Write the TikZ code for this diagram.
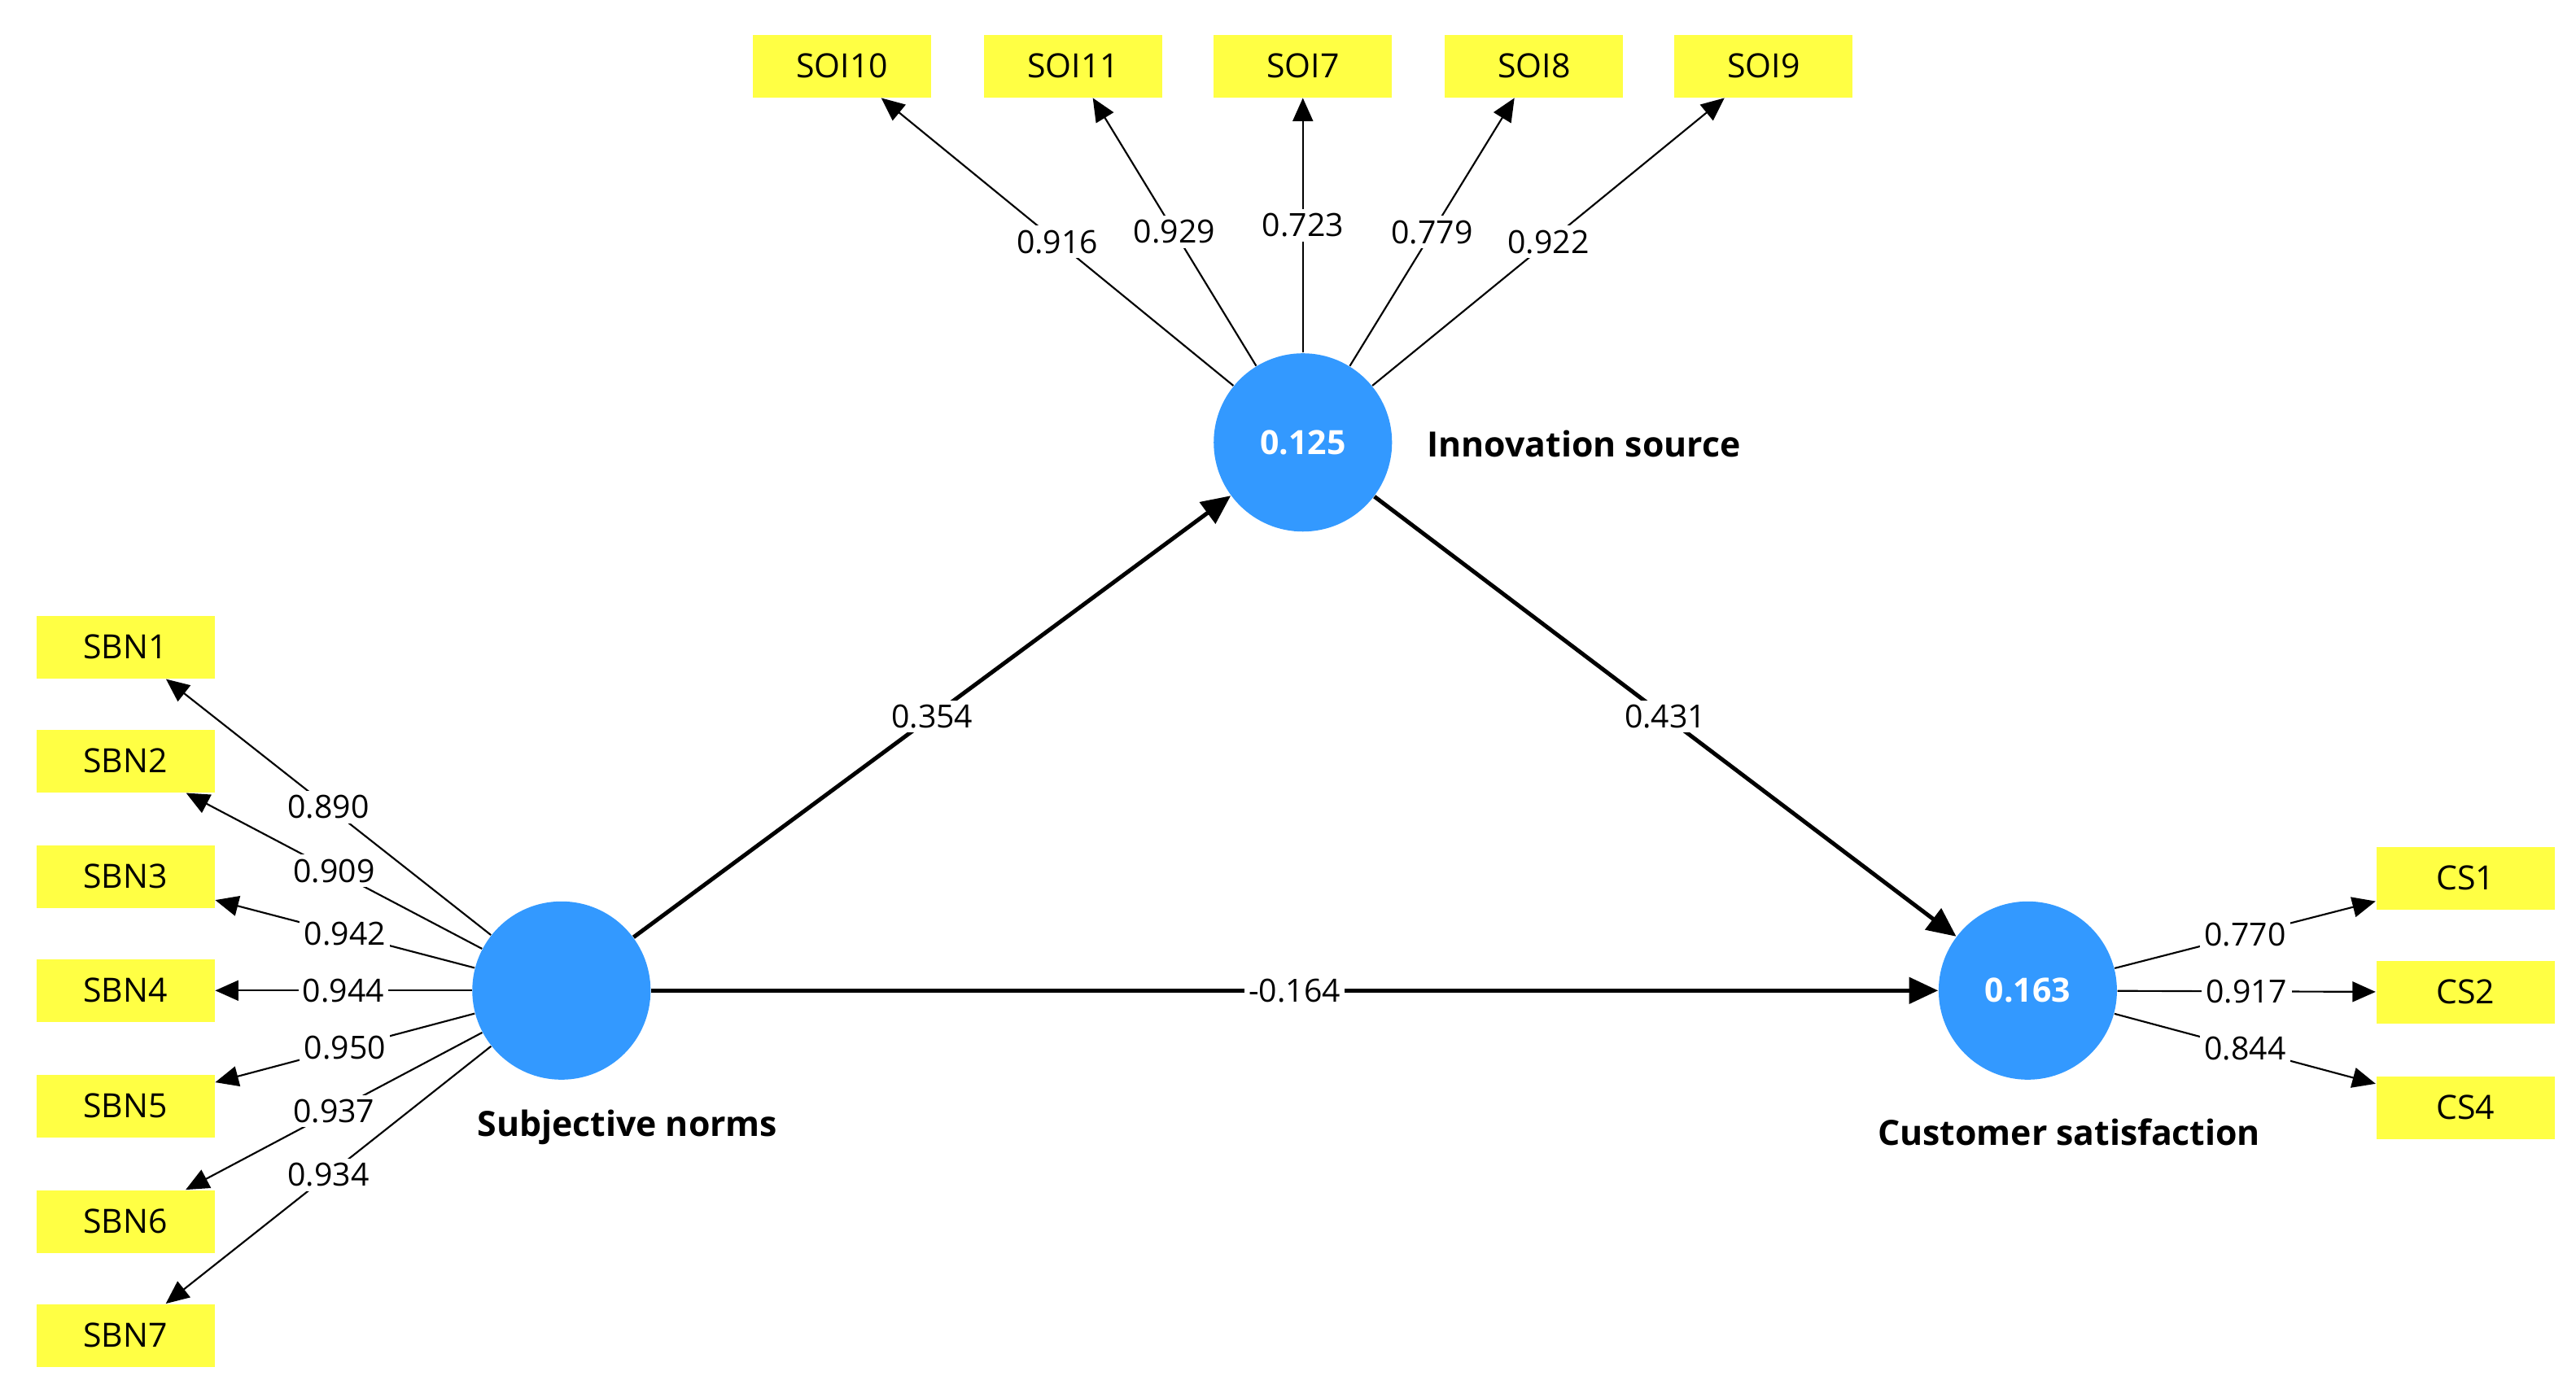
\documentclass[tikz,border=0pt]{standalone}
\usepackage{fontspec}
\setmainfont{Open Sans}
\usetikzlibrary{arrows.meta}
\definecolor{boxy}{HTML}{FFFF44}
\definecolor{circ}{HTML}{3399FF}
\begin{document}
\begin{tikzpicture}[x=0.02cm,y=-0.02cm,
  ind/.style={fill=boxy,minimum width=2.16cm,minimum height=0.76cm,inner sep=0pt,font=\fontsize{11.5}{13}\selectfont},
  lv/.style={circle,fill=circ,minimum size=2.16cm,inner sep=0pt,text=white,font=\bfseries\fontsize{11.5}{13}\selectfont},
  load/.style={-{Triangle[length=8pt,width=7pt]},line width=0.6pt},
  path/.style={-{Triangle[length=10pt,width=9pt]},line width=1.4pt},
  lab/.style={fill=white,inner sep=1.5pt,font=\fontsize{11}{13}\selectfont},
  nm/.style={font=\bfseries\fontsize{12}{14}\selectfont}]
\useasboundingbox (0,0) rectangle (1560,841);
\node[lv] (IS) at (789,268) {0.125};
\node[lv] (SN) at (340,600) {};
\node[lv] (CS) at (1228,600) {0.163};
\node[nm,anchor=west] (ISn) at (858,269) {Innovation source};
\node[nm] (SNn) at (380,683) {Subjective norms};
\node[nm] (CSn) at (1253,686) {Customer satisfaction};
\foreach \n/\x in {SOI10/510,SOI11/650,SOI7/789,SOI8/929,SOI9/1068}
  \node[ind] (\n) at (\x,40) {\n};
\foreach \n/\y in {SBN1/392,SBN2/461,SBN3/531,SBN4/600,SBN5/670,SBN6/740,SBN7/809}
  \node[ind] (\n) at (76,\y) {\n};
\foreach \n/\y in {CS1/532,CS2/601,CS4/671}
  \node[ind] (\n) at (1493,\y) {\n};
\foreach \n/\v in {SOI10/0.916,SOI11/0.929,SOI7/0.723,SOI8/0.779,SOI9/0.922}
  \draw[load] (IS) -- (\n) node[lab,pos=0.5] {\v};
\foreach \n/\v in {SBN1/0.890,SBN2/0.909,SBN3/0.942,SBN4/0.944,SBN5/0.950,SBN6/0.937,SBN7/0.934}
  \draw[load] (SN) -- (\n) node[lab,pos=0.5] {\v};
\foreach \n/\v in {CS1/0.770,CS2/0.917,CS4/0.844}
  \draw[load] (CS) -- (\n) node[lab,pos=0.5] {\v};
\draw[path] (SN) -- (IS) node[lab,pos=0.5] {0.354};
\draw[path] (IS) -- (CS) node[lab,pos=0.5] {0.431};
\draw[path] (SN) -- (CS) node[lab,pos=0.5] {-0.164};
\end{tikzpicture}
\end{document}
